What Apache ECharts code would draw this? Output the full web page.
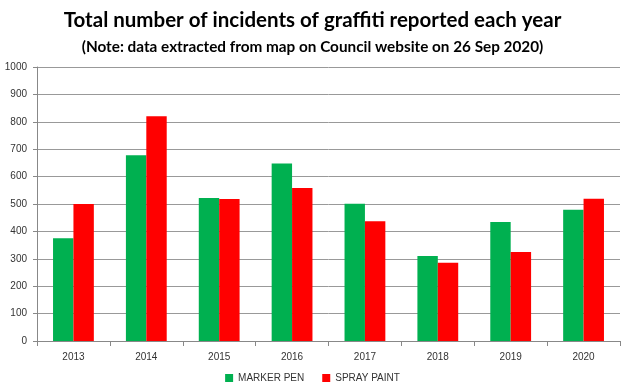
<!DOCTYPE html>
<html><head><meta charset="utf-8">
<script src="https://cdn.jsdelivr.net/npm/echarts@6/dist/echarts.min.js"></script>
<style>html,body{margin:0;padding:0;background:#fff}#c{width:625px;height:392px}</style>
</head><body><div id="c"></div>
<script>
const years = ['2013','2014','2015','2016','2017','2018','2019','2020'];
const markerPen = [375, 678, 522, 648, 501, 310, 434, 479];
const sprayPaint = [500, 820, 518, 558, 437, 286, 325, 519];
const yTicks = [0, 100, 200, 300, 400, 500, 600, 700, 800, 900, 1000];

const chart = echarts.init(document.getElementById('c'), null, {renderer: 'canvas'});
chart.setOption({
  animation: false,
  backgroundColor: '#fff',
  title: [
    {text: 'Total number of incidents of graffiti reported each year', left: 'center', top: 5,
     textStyle: {fontFamily: 'Lato', fontWeight: 'bold', fontSize: 20.5, color: '#000'}},
    {text: '(Note: data extracted from map on Council website on 26 Sep 2020)', left: 'center', top: 35,
     textStyle: {fontFamily: 'Lato', fontWeight: 'bold', fontSize: 15.3, color: '#000'}}
  ],
  legend: {
    bottom: 4, left: 'center', itemWidth: 8, itemHeight: 8, itemGap: 18, icon: 'rect',
    textStyle: {fontFamily: 'Liberation Sans', fontSize: 10, color: '#333'},
    data: ['MARKER PEN', 'SPRAY PAINT']
  },
  grid: {left: 37, right: 5, top: 67, bottom: 51, containLabel: false},
  xAxis: {
    type: 'category', data: years, boundaryGap: true,
    axisLine: {lineStyle: {color: '#888'}},
    axisTick: {show: true, alignWithLabel: false, length: 5, lineStyle: {color: '#888'}},
    axisLabel: {fontFamily: 'Liberation Sans', fontSize: 10, color: '#333', margin: 11}
  },
  yAxis: {
    type: 'value', min: yTicks[0], max: yTicks[yTicks.length - 1], interval: 100,
    axisLine: {show: true, lineStyle: {color: '#888'}},
    axisTick: {show: true, length: 4, lineStyle: {color: '#888'}},
    axisLabel: {fontFamily: 'Liberation Sans', fontSize: 10, color: '#333', margin: 10,
                formatter: function (v) { return String(v); }},
    splitLine: {lineStyle: {color: '#999'}}
  },
  series: [
    {name: 'MARKER PEN', type: 'bar', data: markerPen, barWidth: '28%', barGap: '0%',
     itemStyle: {color: '#00B050'}},
    {name: 'SPRAY PAINT', type: 'bar', data: sprayPaint, barWidth: '28%',
     itemStyle: {color: '#FF0000'}}
  ]
});
</script></body></html>
